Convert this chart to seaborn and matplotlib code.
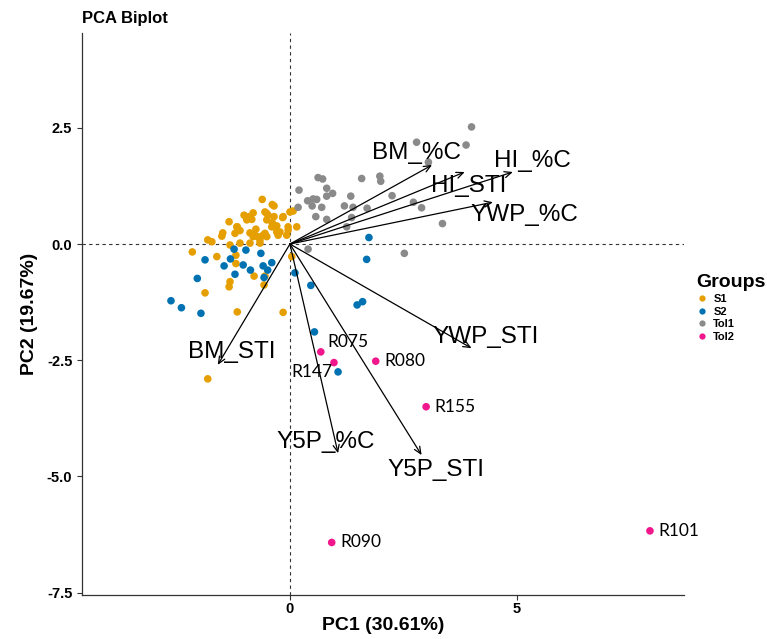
"""PCA biplot of genotypes grouped by tolerance class"""

import pandas as pd
import seaborn as sns
import matplotlib.pyplot as plt
from matplotlib.lines import Line2D

# scores
s1_pc1 = [-0.61, -0.39, -0.35, -1.01, -0.90, -0.95, -0.84, -0.55, -0.48, -0.51,
          -0.35, -0.39, -0.29, -0.16, 0.07, 0.15, -1.34, -1.16, -1.10, -0.75,
          -0.88, -0.81, -0.71, -0.55, -0.51, -0.29, -0.26, -0.07, -1.50, -1.48,
          -1.81, -1.72, -1.32, -1.10, -0.88, -0.66, -2.15, -1.61, -1.19, -1.19,
          -0.79, -0.55, -0.57, -1.32, -1.34, -1.87, -1.16, -0.15, 0.04, -1.81,
          -0.81, -0.51, -0.40, -0.22, -0.15, -0.04, 0.00, -1.17, -1.21, -0.77,
          -0.66, -0.59, -0.04]
s1_pc2 = [0.96, 0.85, 0.82, 0.62, 0.59, 0.52, 0.53, 0.69, 0.62, 0.52,
          0.59, 0.46, 0.39, 0.57, 0.71, 0.37, 0.48, 0.37, 0.29, 0.32,
          0.24, 0.16, 0.16, 0.23, 0.16, 0.26, 0.19, 0.19, 0.17, 0.24,
          0.09, 0.05, -0.02, 0.02, 0.02, 0.02, -0.17, -0.27, -0.24, -0.42,
          -0.69, -0.69, -0.88, -0.81, -0.92, -1.05, -1.46, -1.47, -0.27, -2.90,
          0.67, 0.66, 0.37, 0.26, 0.59, 0.37, 0.69, 0.37, 0.23, 0.19,
          0.09, 0.19, 0.30]

s2_pc1 = [-1.23, -0.97, -0.64, -1.87, -1.31, -1.45, -1.03, -0.59, -0.40, -0.87,
          -0.49, -1.21, -2.04, -0.57, -2.62, -2.39, -1.96, 0.11, 0.46, 1.74,
          1.69, 1.48, 1.60, 0.54, 1.06]
s2_pc2 = [-0.11, -0.13, -0.20, -0.34, -0.32, -0.47, -0.45, -0.47, -0.40, -0.56,
          -0.56, -0.65, -0.74, -0.72, -1.22, -1.37, -1.49, -0.62, -0.89, 0.14,
          -0.33, -1.31, -1.24, -1.89, -2.75]

tol1_pc1 = [4.00, 3.88, 2.79, 3.05, 0.62, 0.72, 1.58, 1.98, 2.00, 0.20,
            0.81, 0.94, 0.81, 1.34, 2.25, 0.39, 0.51, 0.59, 0.18, 0.49,
            0.70, 1.20, 1.39, 1.70, 2.72, 2.90, 0.57, 0.81, 1.36, 1.25,
            3.36, 0.40, 2.52]
tol1_pc2 = [2.52, 2.13, 2.19, 1.76, 1.43, 1.40, 1.41, 1.46, 1.35, 1.16,
            1.20, 1.09, 1.03, 1.03, 1.04, 0.93, 0.97, 0.96, 0.79, 0.82,
            0.79, 0.82, 0.79, 0.77, 0.90, 0.78, 0.59, 0.53, 0.57, 0.37,
            0.44, -0.11, -0.20]

tol2_names = ["R075", "R147", "R080", "R155", "R090", "R101"]
tol2_pc1 = [0.68, 0.97, 1.89, 3.00, 0.92, 7.93]
tol2_pc2 = [-2.32, -2.55, -2.52, -3.50, -6.42, -6.17]

# variable loadings (arrow tips)
var_names = ["BM_%C", "HI_STI", "HI_%C", "YWP_%C", "YWP_STI", "Y5P_STI", "Y5P_%C", "BM_STI"]
var_pc1 = [3.13, 3.85, 4.91, 4.47, 4.00, 2.90, 1.06, -1.59]
var_pc2 = [1.70, 1.55, 1.55, 0.90, -2.24, -4.54, -4.50, -2.60]

groups = ["S1", "S2", "Tol1", "Tol2"]
palette = {"S1": "#E69F00", "S2": "#0072B2", "Tol1": "#8A8A8A", "Tol2": "#F0168C"}

# label offsets in points from the arrow tip / point
var_offsets = {"BM_%C": (-11, 9), "HI_STI": (3, -10), "HI_%C": (14, 8), "YWP_%C": (23, -9),
               "YWP_STI": (10, 8), "Y5P_STI": (10, -11), "Y5P_%C": (-9, 8), "BM_STI": (10, 9)}
ind_offsets = {"R075": (5, 7, "left"), "R147": (-1, -6.5, "right"), "R080": (6, 0, "left"),
               "R155": (6, 0, "left"), "R090": (6, 0, "left"), "R101": (6, 0, "left")}

scores = pd.concat([
    pd.DataFrame({"PC1": s1_pc1, "PC2": s1_pc2, "Group": "S1"}),
    pd.DataFrame({"PC1": s2_pc1, "PC2": s2_pc2, "Group": "S2"}),
    pd.DataFrame({"PC1": tol1_pc1, "PC2": tol1_pc2, "Group": "Tol1"}),
    pd.DataFrame({"PC1": tol2_pc1, "PC2": tol2_pc2, "Group": "Tol2"}),
], ignore_index=True)

sns.set_style("ticks")
plt.rcParams["font.family"] = ["Liberation Sans", "DejaVu Sans"]
plt.rcParams["text.color"] = "black"
plt.rcParams["axes.labelcolor"] = "black"

fig = plt.figure(figsize=(7.67, 6.39), dpi=100)
ax = fig.add_axes([82 / 767, 1 - 595 / 639, 602 / 767, 562 / 639])

ax.axhline(0, color="#333333", lw=0.8, ls=(0, (3, 3)), zorder=1)
ax.axvline(0, color="#333333", lw=0.8, ls=(0, (3, 3)), zorder=1)

sns.scatterplot(data=scores, x="PC1", y="PC2", hue="Group", hue_order=groups,
                palette=palette, s=30, linewidth=0, legend=False, ax=ax, zorder=2)

# sample labels for the tolerant group
for name, x, y in zip(tol2_names, tol2_pc1, tol2_pc2):
    dx, dy, ha = ind_offsets[name]
    ax.annotate(name, (x, y), xytext=(dx, dy), textcoords="offset points",
                ha=ha, va="center", fontsize=12.5, family=["Lato", "DejaVu Sans"])

# variable arrows
for name, x, y in zip(var_names, var_pc1, var_pc2):
    ax.annotate("", xy=(x, y), xytext=(0, 0),
                arrowprops=dict(arrowstyle="->,head_length=0.5,head_width=0.22",
                                color="black", lw=0.9, shrinkA=0, shrinkB=0), zorder=3)
    dx, dy = var_offsets[name]
    ax.annotate(name, (x, y), xytext=(dx, dy), textcoords="offset points",
                ha="center", va="center", fontsize=17.5, zorder=4)

ax.set_xlim(-4.58, 8.68)
ax.set_ylim(-7.55, 4.54)
ax.set_xticks([0, 5])
ax.set_yticks([-7.5, -5.0, -2.5, 0.0, 2.5])
ax.set_yticklabels([f"{v:.1f}" for v in [-7.5, -5.0, -2.5, 0.0, 2.5]])
ax.tick_params(direction="out", length=3.5, width=0.8, color="#333333",
               labelsize=10.5, labelcolor="black")
ax.tick_params(axis="x", pad=1.5)
for lab in ax.get_xticklabels() + ax.get_yticklabels():
    lab.set_fontweight("bold")
sns.despine(ax=ax)
for side in ["left", "bottom"]:
    ax.spines[side].set_color("#333333")
    ax.spines[side].set_linewidth(0.9)

ax.set_xlabel("PC1 (30.61%)", fontsize=14, fontweight="bold", labelpad=1)
ax.set_ylabel("PC2 (19.67%)", fontsize=14, fontweight="bold", labelpad=6)

fig.text(82 / 767, 1 - 19 / 639, "PCA Biplot", fontsize=12, fontweight="bold",
         ha="left", va="center")

handles = [Line2D([], [], marker="o", ls="", markersize=4.5, markeredgewidth=0,
                  color=palette[g]) for g in groups]
leg = ax.legend(handles, groups, title="Groups", loc="upper left",
                bbox_to_anchor=(1.008, 0.585), frameon=False, fontsize=8,
                title_fontproperties={"weight": "bold", "size": 14},
                labelspacing=0.25, handletextpad=0.5, handlelength=1.0,
                borderpad=0.2, alignment="left")
for t in leg.get_texts():
    t.set_fontweight("bold")

fig.savefig("out.png", dpi=100)
plt.close(fig)
